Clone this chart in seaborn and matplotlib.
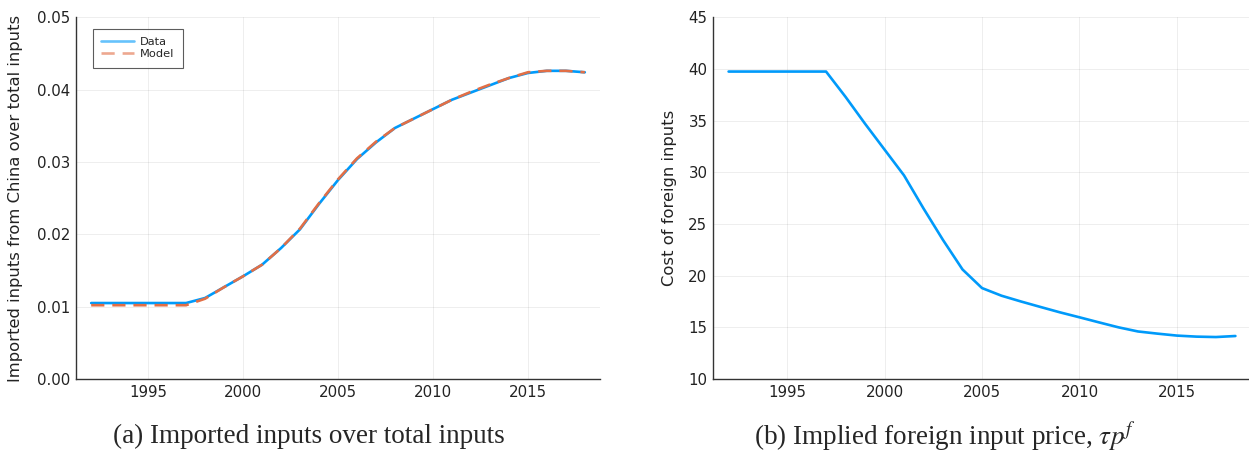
import numpy as np
import pandas as pd
import matplotlib
matplotlib.use("Agg")
import matplotlib.pyplot as plt
import seaborn as sns

# dati
years = list(range(1992, 2019))
share_data = [0.0105, 0.0105, 0.0105, 0.0105, 0.0105, 0.0105,
              0.0112, 0.0127, 0.0142, 0.0158, 0.0181, 0.0207, 0.0242,
              0.0275, 0.0304, 0.0327, 0.0347, 0.0360, 0.0373, 0.0386,
              0.0396, 0.0406, 0.0416, 0.0423, 0.0426, 0.0426, 0.0424]
share_model = [0.0102, 0.0102, 0.0102, 0.0102, 0.0102, 0.0102,
               0.0111, 0.0127, 0.0142, 0.0158, 0.0181, 0.0208, 0.0243,
               0.0276, 0.0305, 0.0328, 0.0347, 0.0360, 0.0373, 0.0386,
               0.0397, 0.0407, 0.0416, 0.0424, 0.0426, 0.0426, 0.0424]
foreign_cost = [39.75, 39.75, 39.75, 39.75, 39.75, 39.75,
                37.3, 34.7, 32.2, 29.7, 26.5, 23.45, 20.6,
                18.8, 18.06, 17.5, 16.97, 16.45, 15.97, 15.48,
                15.0, 14.6, 14.39, 14.2, 14.1, 14.06, 14.16]

blue = '#009AFA'
orange = '#E26F46'

sns.set_style("white")
plt.rcParams['font.family'] = ['DejaVu Sans']
plt.rcParams['mathtext.fontset'] = 'stix'

df = pd.DataFrame({'year': years, 'Data': share_data, 'Model': share_model,
                   'cost': foreign_cost})

fig = plt.figure(figsize=(12.49, 4.55), dpi=100)
W, H = 1249, 455
bottom = 1 - 379 / H
height = (379 - 17.3) / H
ax1 = fig.add_axes([76 / W, bottom, 524 / W, height])
ax2 = fig.add_axes([713 / W, bottom, 538 / W, height])


def style_axis(ax):
    ax.set_xlim(1991.2, 2018.8)
    ax.set_xticks([1995, 2000, 2005, 2010, 2015])
    ax.grid(True, color='black', alpha=0.08, linewidth=0.6)
    for side in ['top', 'right']:
        ax.spines[side].set_visible(False)
    for side in ['left', 'bottom']:
        ax.spines[side].set_color('#333333')
        ax.spines[side].set_linewidth(1.0)
    ax.tick_params(direction='in', length=4, width=0.8, color='#333333',
                   labelsize=10.8, labelcolor='#222222', pad=4)
    ax.set_xlabel('')


sns.lineplot(data=df, x='year', y='Data', ax=ax1, color=blue, linewidth=1.9,
             label='Data')
sns.lineplot(data=df, x='year', y='Model', ax=ax1, color=orange, linewidth=1.9,
             linestyle=(0, (5, 3)), label='Model')
ax1.set_ylim(0, 0.05)
ax1.set_yticks([0.0, 0.01, 0.02, 0.03, 0.04, 0.05])
ax1.set_yticklabels(['0.00', '0.01', '0.02', '0.03', '0.04', '0.05'])
style_axis(ax1)
ax1.set_ylabel('Imported inputs from China over total inputs', fontsize=11.8,
               color='#222222')
ax1.yaxis.set_label_coords(-0.101, 0.5)
leg = ax1.legend(loc='upper left', bbox_to_anchor=(0.032, 0.968), fontsize=8.2,
                 frameon=True, fancybox=False, handlelength=2.9,
                 handletextpad=0.5, borderpad=0.75, labelspacing=0.15,
                 borderaxespad=0)
leg.get_frame().set_edgecolor('#333333')
leg.get_frame().set_linewidth(0.8)
for line in leg.get_lines():
    line.set_alpha(0.6)

sns.lineplot(data=df, x='year', y='cost', ax=ax2, color=blue, linewidth=1.9)
ax2.set_ylim(10, 45)
ax2.set_yticks([10, 15, 20, 25, 30, 35, 40, 45])
style_axis(ax2)
ax2.set_ylabel('Cost of foreign inputs', fontsize=11.8, color='#222222')
ax2.yaxis.set_label_coords(-0.067, 0.5)

fig.text(309 / W, 1 - 436 / H, '(a) Imported inputs over total inputs',
         ha='center', va='center', family='Liberation Serif', fontsize=19.5)
fig.text(945 / W, 1 - 436 / H, r'(b) Implied foreign input price, $\tau p^f$',
         ha='center', va='center', family='Liberation Serif', fontsize=19.5)

fig.savefig('out.png', dpi=100)
